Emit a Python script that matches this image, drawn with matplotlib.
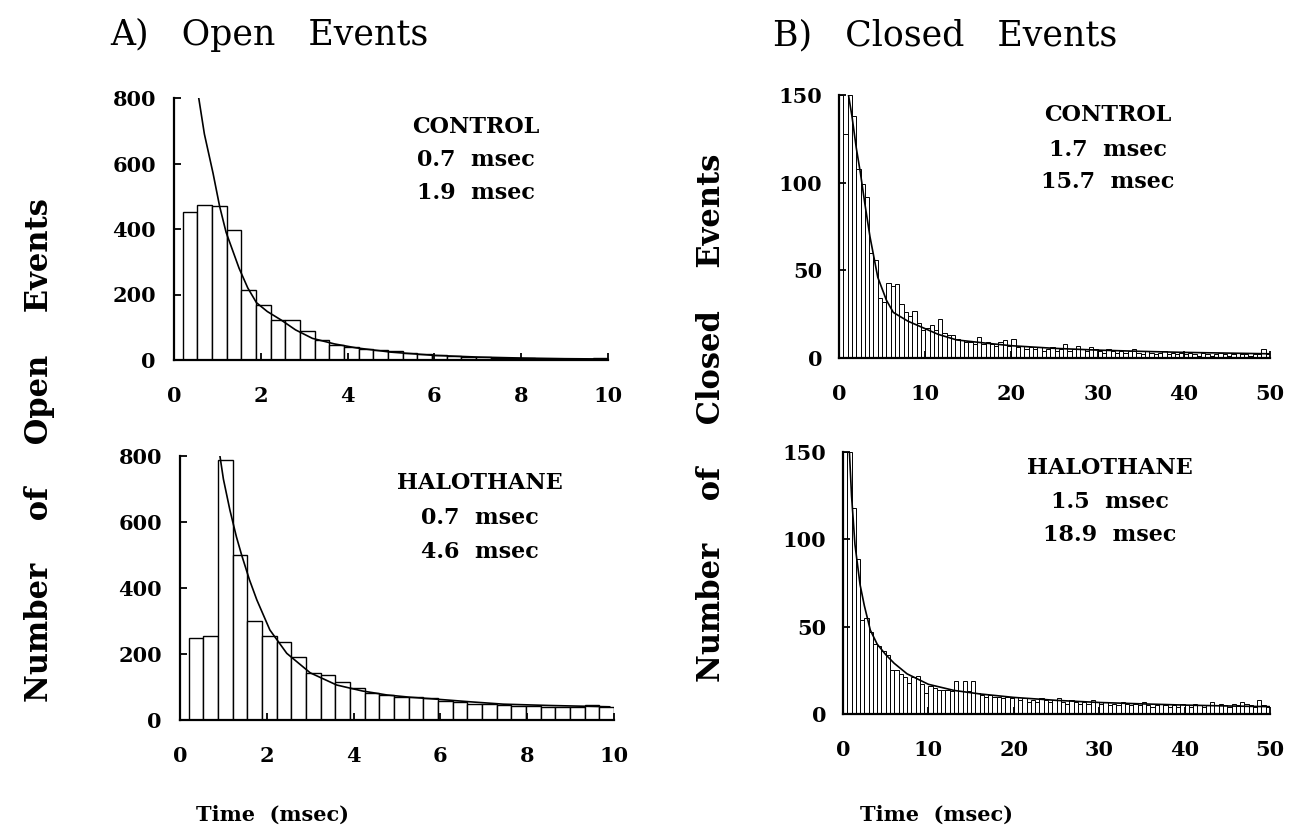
import matplotlib
matplotlib.use('Agg')
import matplotlib.pyplot as plt
import numpy as np

W, H = 1301, 832
FONT = 'DejaVu Serif'

# open events: bins of ~0.338 msec starting at 0.2 msec
open_bin_start = 0.2
open_bin_width = 0.338
open_control = [453, 472, 470, 397, 214, 168, 122, 122, 90, 61, 46, 40, 34, 30, 26,
                22, 18, 15, 12, 10, 8, 7, 6, 5, 4, 4, 3, 3, 5]
open_halo = [247, 255, 788, 500, 301, 254, 237, 190, 143, 136, 114, 96, 83, 76, 71,
             71, 66, 58, 56, 50, 48, 46, 43, 43, 40, 40, 40, 46, 38]

# fitted curves
open_control_fit_t = [0.57, 0.7, 0.9, 1.05, 1.2, 1.5, 1.7, 1.9, 2.15, 2.47, 2.8, 3.19,
                      3.7, 4.2, 5, 6, 7, 8, 9, 10]
open_control_fit_y = [800, 690, 570, 470, 390, 280, 220, 175, 148, 122, 92, 66,
                      49, 37, 24, 14, 9, 6, 4, 3]
open_halo_fit_t = [0.92, 1.0, 1.15, 1.3, 1.42, 1.6, 1.77, 2.07, 2.46, 3.0, 3.61, 4.2,
                   4.76, 5.3, 5.92, 6.7, 7.45, 8.5, 9.9]
open_halo_fit_y = [800, 730, 636, 555, 500, 425, 364, 273, 202, 143, 106, 88,
                   76, 69, 63, 55, 48, 44, 40]

# closed events: 0.5 msec bins from 0 to 50
closed_bin_width = 0.5
closed_control = [150, 128, 150, 138, 108, 99, 92, 60, 56, 34, 32, 43, 41, 42, 31, 26, 24, 27, 20, 16,
                  17, 19, 16, 22, 14, 13, 13, 11, 10, 9, 9, 8, 12, 8, 9, 8, 7, 9, 10, 7,
                  11, 6, 7, 5, 6, 5, 6, 4, 5, 6, 4, 5, 8, 4, 5, 7, 5, 4, 6, 5,
                  4, 3, 5, 4, 3, 4, 3, 4, 5, 3, 2, 4, 3, 2, 3, 4, 2, 3, 2, 3,
                  2, 3, 2, 1, 3, 2, 1, 2, 3, 2, 1, 2, 3, 2, 2, 1, 2, 2, 5, 2]
closed_halo = [150, 150, 118, 89, 54, 55, 47, 40, 39, 36, 34, 25, 25, 23, 21, 18, 21, 22, 17, 12,
               16, 15, 14, 14, 14, 13, 19, 13, 19, 13, 19, 12, 11, 10, 11, 10, 10, 9, 10, 9,
               10, 8, 9, 7, 8, 7, 9, 8, 7, 8, 9, 7, 6, 8, 7, 6, 7, 6, 8, 7,
               6, 7, 5, 6, 5, 7, 6, 5, 6, 5, 7, 5, 4, 5, 6, 5, 4, 5, 4, 6,
               5, 4, 6, 5, 4, 5, 7, 5, 6, 5, 4, 6, 5, 7, 6, 5, 4, 8, 5, 4]

closed_control_fit_t = [1.1, 1.5, 2.0, 2.5, 3.0, 3.6, 4.5, 5.5, 6.3, 8, 9.4, 11.5,
                        13.65, 17, 20, 25, 30, 35, 40, 45, 50]
closed_control_fit_y = [150, 138, 120, 105, 88, 69, 46, 33, 26, 21, 18, 13.5,
                        10.3, 8.5, 7, 5.5, 4.5, 3.8, 3.2, 2.8, 2.4]
closed_halo_fit_t = [0.75, 1.0, 1.4, 2.0, 2.5, 3.2, 4.0, 5.0, 6.0, 7.5, 10, 13,
                     16, 20, 25, 30, 35, 40, 45, 50]
closed_halo_fit_y = [150, 125, 97, 74, 62, 48, 40, 34, 29, 23, 17, 13.5,
                     11.5, 9.5, 7.8, 6.6, 5.8, 5.1, 4.6, 4.2]

open_xticks = [0, 2, 4, 6, 8, 10]
open_yticks = [0, 200, 400, 600, 800]
closed_xticks = [0, 10, 20, 30, 40, 50]
closed_yticks = [0, 50, 100, 150]


def box(l, r, t, b):
    # pixel box -> figure fraction rect
    return [l / W, 1 - b / H, (r - l) / W, (b - t) / H]


def px(x, y):
    return x / W, 1 - y / H


def style_axes(ax, xlim, ylim, xticks, yticks, ypad):
    ax.set_xlim(*xlim)
    ax.set_ylim(*ylim)
    ax.set_xticks(xticks)
    ax.set_yticks(yticks)
    for s in ['top', 'right']:
        ax.spines[s].set_visible(False)
    for s in ['left', 'bottom']:
        ax.spines[s].set_linewidth(1.6)
    ax.tick_params(direction='in', length=5, width=1.3, labelsize=15)
    ax.tick_params(axis='x', pad=19)
    ax.tick_params(axis='y', pad=ypad)
    for lab in ax.get_xticklabels() + ax.get_yticklabels():
        lab.set_fontfamily(FONT)
        lab.set_fontweight('bold')


def draw_hist(ax, start, width, heights, lw):
    lefts = [start + i * width for i in range(len(heights))]
    ax.bar(lefts, heights, width=width, align='edge', color='white',
           edgecolor='black', linewidth=lw)


fig = plt.figure(figsize=(W / 100, H / 100), dpi=100)

ax1 = fig.add_axes(box(174, 608, 98, 360))
draw_hist(ax1, open_bin_start, open_bin_width, open_control, 1.0)
ax1.plot(open_control_fit_t, open_control_fit_y, color='black', lw=1.2)
style_axes(ax1, (0, 10), (0, 800), open_xticks, open_yticks, 13)

ax2 = fig.add_axes(box(180, 614, 456, 720))
draw_hist(ax2, open_bin_start, open_bin_width, open_halo, 1.0)
ax2.plot(open_halo_fit_t, open_halo_fit_y, color='black', lw=1.2)
style_axes(ax2, (0, 10), (0, 800), open_xticks, open_yticks, 13)

ax3 = fig.add_axes(box(839, 1270, 95, 358))
draw_hist(ax3, 0, closed_bin_width, closed_control, 0.7)
ax3.plot(closed_control_fit_t, closed_control_fit_y, color='black', lw=1.2)
style_axes(ax3, (0, 50), (0, 150), closed_xticks, closed_yticks, 12)

ax4 = fig.add_axes(box(843, 1270, 452, 714))
draw_hist(ax4, 0, closed_bin_width, closed_halo, 0.7)
ax4.plot(closed_halo_fit_t, closed_halo_fit_y, color='black', lw=1.2)
style_axes(ax4, (0, 50), (0, 150), closed_xticks, closed_yticks, 12)

# titles
fig.text(*px(110, 35), 'A)   Open   Events', fontsize=25, family=FONT,
         ha='left', va='center')
fig.text(*px(773, 35), 'B)   Closed   Events', fontsize=25, family=FONT,
         ha='left', va='center')

# axis labels
fig.text(*px(40, 450), 'Number    of    Open    Events', fontsize=22, family=FONT,
         fontweight='bold', rotation=90, ha='center', va='center')
fig.text(*px(712, 418), 'Number    of    Closed    Events', fontsize=22, family=FONT,
         fontweight='bold', rotation=90, ha='center', va='center')
fig.text(*px(272, 815), 'Time  (msec)', fontsize=15, family=FONT,
         fontweight='bold', ha='center', va='center')
fig.text(*px(937, 815), 'Time  (msec)', fontsize=15, family=FONT,
         fontweight='bold', ha='center', va='center')

# fit annotations
notes = [
    (476, [127, 160, 193], ['CONTROL', '0.7  msec', '1.9  msec']),
    (480, [483, 518, 552], ['HALOTHANE', '0.7  msec', '4.6  msec']),
    (1108, [115, 150, 182], ['CONTROL', '1.7  msec', '15.7  msec']),
    (1110, [468, 502, 535], ['HALOTHANE', '1.5  msec', '18.9  msec']),
]
for x, ys, texts in notes:
    for y, t in zip(ys, texts):
        fig.text(*px(x, y), t, fontsize=16, family=FONT, fontweight='bold',
                 ha='center', va='center')

fig.savefig('out.png', dpi=100)
